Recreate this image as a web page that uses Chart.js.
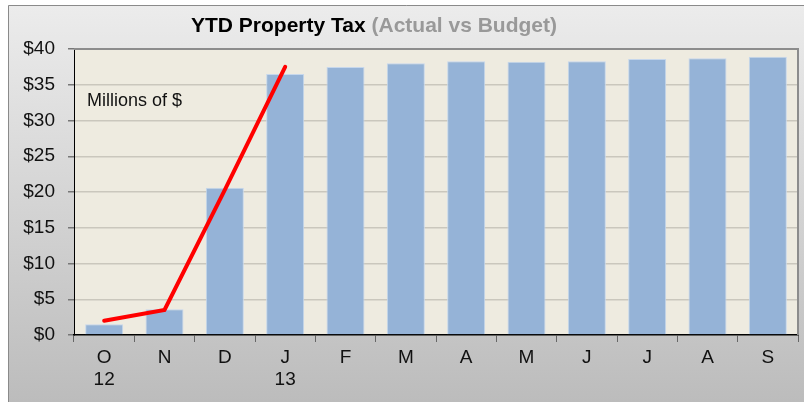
<!DOCTYPE html>
<html>
<head>
<meta charset="utf-8">
<script src="https://cdn.jsdelivr.net/npm/chart.js@4"></script>
<style>
  body { margin: 0; background: #fff; }
  #wrap { position: relative; width: 804px; height: 402px; }
  #title { position: absolute; left: 191px; top: 14px; font: bold 21px "Liberation Sans", Arial, sans-serif; line-height: 21px; white-space: nowrap; color: #000; }
  #title span { color: #999; }
  #units { position: absolute; left: 87px; top: 91px; font: 18px "Liberation Sans", Arial, sans-serif; line-height: 18px; color: #111; }
</style>
</head>
<body>
<div id="wrap">
  <canvas id="taxChart" width="804" height="402"></canvas>
  <div id="title">YTD Property Tax <span>(Actual vs Budget)</span></div>
  <div id="units">Millions of $</div>
</div>
<script>
// mois fiscal oct 2012 - sept 2013
const months = [['O', '12'], 'N', 'D', ['J', '13'], 'F', 'M', 'A', 'M', 'J', 'J', 'A', 'S'];
const budget = [1.5, 3.6, 20.6, 36.5, 37.5, 38.0, 38.3, 38.2, 38.3, 38.6, 38.7, 38.9];
const actual = [2.0, 3.5, 20.3, 37.5, null, null, null, null, null, null, null, null];
const yTicks = [0, 5, 10, 15, 20, 25, 30, 35, 40];

// fond gris dégradé + zone de tracé beige
const background = {
    id: 'background',
    beforeDraw(chart) {
        const ctx = chart.ctx;
        const a = chart.chartArea;
        ctx.save();
        ctx.fillStyle = '#fff';
        ctx.fillRect(0, 0, chart.width, chart.height);
        const g = ctx.createLinearGradient(0, 5, 0, chart.height);
        g.addColorStop(0, '#ececec');
        g.addColorStop(1, '#bcbcbc');
        ctx.fillStyle = g;
        ctx.fillRect(8, 5, chart.width, chart.height);
        ctx.strokeStyle = '#8a8a8a';
        ctx.lineWidth = 1;
        ctx.beginPath();
        ctx.moveTo(8.5, chart.height);
        ctx.lineTo(8.5, 5.5);
        ctx.lineTo(chart.width, 5.5);
        ctx.stroke();
        ctx.fillStyle = '#eeebe0';
        ctx.fillRect(a.left, a.top, a.right - a.left, a.bottom - a.top);
        ctx.restore();
    },
    afterDraw(chart) {
        const ctx = chart.ctx;
        const a = chart.chartArea;
        ctx.save();
        ctx.strokeStyle = '#8c8c8c';
        ctx.lineWidth = 2;
        ctx.beginPath();
        ctx.moveTo(a.left, a.top);
        ctx.lineTo(a.right, a.top);
        ctx.lineTo(a.right, a.bottom);
        ctx.stroke();
        ctx.restore();
    }
};

new Chart(document.getElementById('taxChart'), {
    type: 'bar',
    data: {
        labels: months,
        datasets: [{
            type: 'line',
            label: 'Actual',
            data: actual,
            borderColor: '#ff0000',
            borderWidth: 4,
            borderCapStyle: 'round',
            pointRadius: 0,
            tension: 0,
            order: 0
        }, {
            label: 'Budget',
            data: budget,
            backgroundColor: '#95b3d7',
            borderColor: '#c6d7ec',
            borderWidth: 1,
            barPercentage: 0.63,
            categoryPercentage: 1,
            order: 1
        }]
    },
    options: {
        responsive: false,
        animation: false,
        layout: { padding: { left: 0, top: 49, right: 6, bottom: 0 } },
        plugins: {
            legend: { display: false },
            tooltip: { enabled: false }
        },
        scales: {
            x: {
                offset: true,
                grid: { offset: true, drawOnChartArea: false, tickLength: 7, color: '#666' },
                border: { color: '#000', width: 1.5 },
                ticks: { color: '#111', font: { family: 'Liberation Sans', size: 19 }, padding: 4, maxRotation: 0 },
                afterFit(scale) { scale.height = 67; }
            },
            y: {
                min: 0,
                max: 40,
                afterBuildTicks(scale) { scale.ticks = yTicks.map(v => ({ value: v })); },
                grid: { color: '#cac7bd', lineWidth: 1.5, tickLength: 6, tickColor: '#777' },
                border: { color: '#000', width: 1 },
                ticks: {
                    color: '#111',
                    font: { family: 'Liberation Sans', size: 19 },
                    padding: 13,
                    callback: v => '$' + v
                },
                afterFit(scale) { scale.width = 74; }
            }
        }
    },
    plugins: [background]
});
</script>
</body>
</html>
